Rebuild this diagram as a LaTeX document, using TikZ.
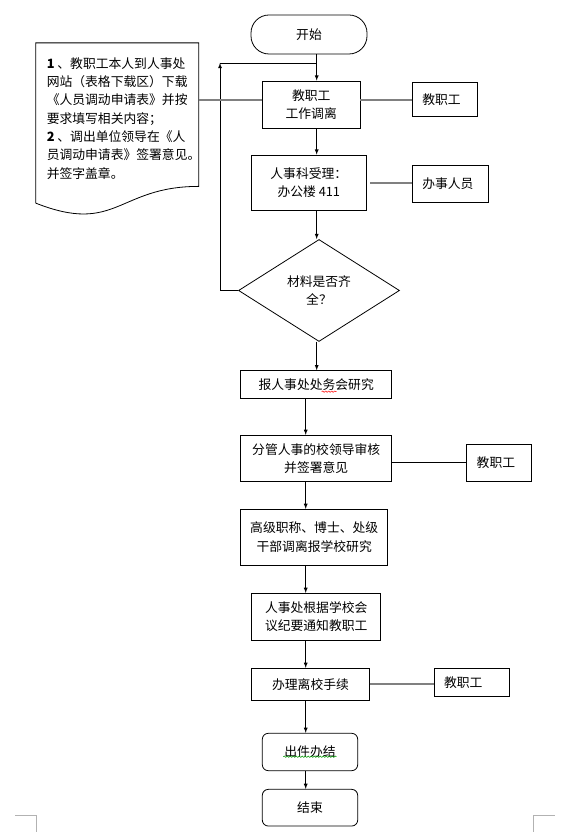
\documentclass[tikz,border=0pt]{standalone}
\usepackage{fontspec}
\setmainfont{Noto Sans CJK SC}
\usetikzlibrary{arrows,shapes,decorations.pathmorphing,calc}

\begin{document}
\begin{tikzpicture}[x=1pt, y=1pt, line width=0.8pt, >=latex,
  font={\fontsize{12.8pt}{18.3pt}\selectfont},
  terminal/.style={rectangle,draw,rounded corners=18pt},
  process/.style={rectangle,draw,align=center,inner sep=0pt},
  finish/.style={rectangle,draw,rounded corners=6pt,inner sep=0pt},
  decision/.style={diamond,draw,align=center,inner sep=0pt},
  role/.style={rectangle,draw,align=left,inner xsep=10pt,inner ysep=0pt},
  link/.style={draw=gray,line width=2pt},
  flow/.style={draw,->},
  spell/.style={line width=0.5pt,decorate,decoration={snake,amplitude=0.7pt,segment length=3pt}},
  ]
  \useasboundingbox (0,0) rectangle (572,832);
  % main column
  \node[terminal, minimum width=116pt, minimum height=39pt] (start) at (309,797.5) {开始};
  \node[process, minimum width=97.7pt, minimum height=47.3pt] (b1) at (311.2,727.3) {教职工\\工作调离};
  \node[process, minimum width=115.7pt, minimum height=55.7pt] (b2) at (308.8,649.1) {人事科受理：\\办公楼 411};
  \node[decision, minimum width=161pt, minimum height=102pt] (dia) at (319,541.5) {材料是否齐\\全？};
  \node[process, minimum width=151pt, minimum height=27.6pt] (b3) at (316.2,447.5) {报人事处处务会研究};
  \node[process, minimum width=151pt, minimum height=46pt] (b4) at (316.2,373.7) {分管人事的校领导审核\\并签署意见};
  \node[process, minimum width=147pt, minimum height=55.7pt] (b5) at (314.2,294.8) {高级职称、博士、处级\\干部调离报学校研究};
  \node[process, minimum width=129pt, minimum height=46.7pt] (b6) at (316.2,215.3) {人事处根据学校会\\议纪要通知教职工};
  \node[process, minimum width=117.6pt, minimum height=32.4pt] (b7) at (310.5,147.5) {办理离校手续};
  \node[finish, minimum width=95.4pt, minimum height=37.4pt] (b8) at (310,80) {出件办结};
  \node[finish, minimum width=95.4pt, minimum height=36.7pt] (b9) at (310,24.3) {结束};

  % who does it
  \node[role, text width=45.4pt, minimum height=34pt] (r1) at (445,732.3) {教职工};
  \node[role, text width=56pt, minimum height=36.6pt] (r2) at (450.3,648) {办事人员};
  \node[role, text width=45pt, minimum height=37pt] (r3) at (499.2,369.2) {教职工};
  \node[role, text width=55.3pt, minimum height=27.7pt] (r4) at (471.7,149.8) {教职工};

  % note on the left
  \node[minimum width=162.3pt, minimum height=142.7pt, inner sep=0pt] (doc) at (117.2,717.35) {};
  \node[align=left, anchor=north west, inner sep=0pt] (note) at ($(doc.north west)+(10.7,-14.2)$)
    {{\bfseries 1}~、教职工本人到人事处\\网站（表格下载区）下载\\《人员调动申请表》并按\\要求填写相关内容；\\{\bfseries 2}~、调出单位领导在《人\\员调动申请表》签署意见。\\并签字盖章。};
  \draw ($(doc.south west)+(0,-16.7)$) -- (doc.north west) -- (doc.north east) -- (doc.south east)
    .. controls +(-81,0) and +(81,-32) .. ($(doc.south west)+(0,-16.7)$);

  % arrows
  \coordinate (spine) at (316.7,0);
  \coordinate (lower) at (305.7,0);
  \draw[flow] (start.south -| spine) -- (b1.north -| spine);
  \draw[flow] (b1.south -| spine) -- (b2.north -| spine);
  \draw[flow] (b2.south -| spine) -- (dia.north -| spine);
  \draw[flow] (dia.south -| spine) -- (b3.north -| spine);
  \draw[flow] (b3.south -| lower) -- (b4.north -| lower);
  \draw[flow] (b4.south -| lower) -- (b5.north -| lower);
  \draw[flow] (b5.south -| lower) -- (b6.north -| lower);
  \draw[flow] (b6.south -| lower) -- (b7.north -| lower);
  \draw[flow] (b7.south -| lower) -- (b8.north -| lower);
  \draw[flow] (b8.south -| lower) -- (b9.north -| lower);
  % back loop
  \coordinate (back) at (220,769);
  \draw[flow] (dia.west) -| (back);
  \draw (back) -- (back -| spine);

  % side links
  \draw[link] (doc.east |- r1.west) -- (b1.west |- r1.west);
  \draw[link] (b1.east |- r1.west) -- (r1.west);
  \draw[link, shorten <=3pt] (b2.east) -- (b2.east -| r2.west);
  \draw (b4.east |- r3.west) -- (r3.west);
  \draw[link] (b7.east) -- (b7.east -| r4.west);

  % spell marks
  \draw[spell, red] (321.7,440.3) -- (336.7,440.3);
  \draw[spell, green!60!black] (283.3,75.3) -- (336.7,75.3);
  % page corners
  \draw[gray!60] (15,16.7) -- (36.7,16.7) -- (36.7,0);
  \draw[gray!60] (533.3,0) -- (533.3,16.7) -- (555,16.7);
\end{tikzpicture}
\end{document}
